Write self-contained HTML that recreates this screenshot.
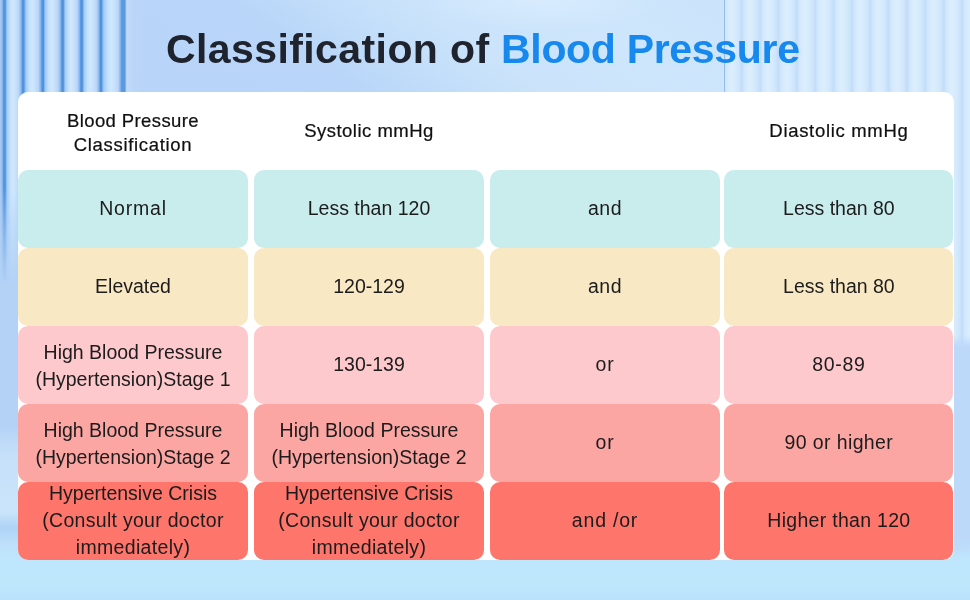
<!DOCTYPE html>
<html lang="en">
<head>
<meta charset="utf-8">
<title>Classification of Blood Pressure</title>
<style>
html,body{margin:0;padding:0;}
body{width:970px;height:600px;overflow:hidden;position:relative;font-family:"Liberation Sans",sans-serif;background:#bcdcf8;}
#bg{position:absolute;left:0;top:0;width:970px;height:600px;background:#b9d6f9;}
#bgtop{position:absolute;left:126px;top:0;width:598px;height:92px;
  background:linear-gradient(35.3deg,#b8d5f9 0%,#b9d6f9 33%,#c3defa 46%,#cbe4fb 58%,#cee6fc 78%,#cbe4fb 100%);}
#bgglow{position:absolute;left:420px;top:0;width:240px;height:60px;
  background:radial-gradient(ellipse 120px 30px at 50% 0,rgba(226,241,254,.5),rgba(226,241,254,0));}
#stripesR{position:absolute;left:724px;top:0;width:246px;height:600px;
  background:repeating-linear-gradient(90deg,#c4defa 0px,#cfe6fc 1.5px,#d8ecfd 5px,#dbeefe 8px,#d5eafc 12px,#cde4fb 15.5px,#c4defa 17.5px,#c4defa 18.35px);}
#lineR{position:absolute;left:723.5px;top:0;width:1.2px;height:92px;background:#93bbec;}
#rightlow{position:absolute;left:950px;top:335px;width:20px;height:265px;background:linear-gradient(180deg,rgba(188,217,250,0),#bcd9fa 12px,#bcd9fa 200px,#bfe0fa 240px);}
#stripesL{position:absolute;left:0;top:0;width:140px;height:290px;
  background:linear-gradient(90deg,#a9caf4 0px,#a8c9f4 0.8px,#88b5ec 2.4px,#5e9be0 3.4px,#5092dc 3.9px,#5092dc 5.3px,#78b1ee 5.9px,#a6cdf8 7.4px,#c4e0fc 10.1px,#d0e8fd 13.0px,#c6e0fb 16.2px,#b7d5f8 19.2px,#a8c9f4 19.6px,#88b5ec 21.2px,#5e9be0 22.2px,#5092dc 22.7px,#5092dc 24.1px,#78b1ee 24.7px,#a6cdf8 26.2px,#c4e0fc 29.1px,#d0e8fd 32.1px,#c6e0fb 35.4px,#b7d5f8 38.5px,#a8c9f4 39.1px,#88b5ec 40.7px,#5e9be0 41.7px,#5092dc 42.2px,#5092dc 43.6px,#78b1ee 44.2px,#a6cdf8 45.7px,#c4e0fc 48.7px,#d0e8fd 51.7px,#c6e0fb 55.1px,#b7d5f8 58.2px,#a8c9f4 58.9px,#88b5ec 60.5px,#5e9be0 61.5px,#5092dc 62.0px,#5092dc 63.4px,#78b1ee 64.0px,#a6cdf8 65.5px,#c4e0fc 68.3px,#d0e8fd 71.2px,#c6e0fb 74.4px,#b7d5f8 77.4px,#a8c9f4 77.9px,#88b5ec 79.5px,#5e9be0 80.5px,#5092dc 81.0px,#5092dc 82.4px,#78b1ee 83.0px,#a6cdf8 84.5px,#c4e0fc 87.4px,#d0e8fd 90.4px,#c6e0fb 93.7px,#b7d5f8 96.8px,#a8c9f4 97.4px,#88b5ec 99.0px,#5e9be0 100.0px,#5092dc 100.5px,#5092dc 101.9px,#78b1ee 102.5px,#a6cdf8 104.0px,#c4e0fc 107.8px,#d0e8fd 111.1px,#c6e0fb 114.9px,#b7d5f8 118.4px,#a8c9f4 118.8px,#88b5ec 120.4px,#5e9be0 121.4px,#5b9ae0 121.9px,#5b9ae0 124.9px,#78b1ee 125.5px,#c0dafa 126.6px,#b9d6f9 134px,#b9d6f9 140px);
  -webkit-mask-image:linear-gradient(180deg,#000 0,#000 188px,rgba(0,0,0,.5) 228px,rgba(0,0,0,0) 285px);
  mask-image:linear-gradient(180deg,#000 0,#000 188px,rgba(0,0,0,.5) 228px,rgba(0,0,0,0) 285px);}
#leftlow{position:absolute;left:0;top:200px;width:24px;height:400px;background:linear-gradient(180deg,#b3d2f6 0,#b3d2f6 225px,#c6e0fa 255px,#cae4fb 312px,#aed3f5 328px,#bfe0fa 345px,#bfe1fa 400px);}
#bgbottom{position:absolute;left:0;top:545px;width:970px;height:55px;
  background:linear-gradient(180deg,rgba(190,230,252,0) 0,#bee6fc 14px,#bfe7fc 35px,#bae2fb 55px);}
#card{position:absolute;left:17.7px;top:92.2px;width:936.8px;height:468.2px;background:#fff;border-radius:10px;}
#title{position:absolute;left:0;top:0;width:970px;height:92px;margin:0;font-size:41px;line-height:50px;font-weight:bold;}
.t{position:absolute;top:24px;white-space:nowrap;}
#t1{left:166px;color:#1e232d;letter-spacing:.41px;}
#t2{left:501px;color:#1688ee;letter-spacing:-.31px;}
.cell{position:absolute;width:230px;height:78px;border-radius:10px;box-sizing:border-box;padding:0 0 1.6px;display:flex;align-items:center;justify-content:center;text-align:center;font-size:19.5px;line-height:27px;color:#1c1c1c;}
.c1{left:18px}.c2{left:254px}.c3{left:490px}.c4{left:724.3px;width:229.2px}
.r0{top:92px;padding:0;background:transparent;font-size:18.5px;line-height:24.3px;color:#111;letter-spacing:.4px;-webkit-text-stroke:.22px #111;}
.two{padding:2.5px 0 0}.three{padding:0}
.r1{top:170px;background:#c9eced}
.r2{top:248px;background:#f9e8c4}
.r3{top:326px;background:#fdc9cc}
.r4{top:404px;background:#fba6a3}
.r5{top:482px;height:77.6px;background:#fd756b}
</style>
</head>
<body>
<div id="bg"></div>
<div id="bgtop"></div>
<div id="bgglow"></div>
<div id="stripesR"></div>
<div id="lineR"></div>
<div id="rightlow"></div>
<div id="leftlow"></div>
<div id="stripesL"></div>
<div id="bgbottom"></div>
<h1 id="title"><span class="t" id="t1">Classification of</span> <span class="t" id="t2">Blood Pressure</span></h1>
<div id="card"></div>

<div class="cell r0 c1" style="padding-top:4.5px"><div>Blood Pressure<br><span style="letter-spacing:.68px">Classification</span></div></div>
<div class="cell r0 c2" style="letter-spacing:.48px">Systolic mmHg</div>
<div class="cell r0 c4" style="letter-spacing:.68px">Diastolic mmHg</div>

<div class="cell r1 c1" style="letter-spacing:.8px">Normal</div>
<div class="cell r1 c2">Less than 120</div>
<div class="cell r1 c3" style="letter-spacing:.55px">and</div>
<div class="cell r1 c4">Less than 80</div>

<div class="cell r2 c1">Elevated</div>
<div class="cell r2 c2">120-129</div>
<div class="cell r2 c3" style="letter-spacing:.55px">and</div>
<div class="cell r2 c4">Less than 80</div>

<div class="cell two r3 c1">High Blood Pressure<br>(Hypertension)Stage 1</div>
<div class="cell r3 c2">130-139</div>
<div class="cell r3 c3" style="letter-spacing:.9px">or</div>
<div class="cell r3 c4" style="letter-spacing:.65px">80-89</div>

<div class="cell two r4 c1">High Blood Pressure<br>(Hypertension)Stage 2</div>
<div class="cell two r4 c2">High Blood Pressure<br>(Hypertension)Stage 2</div>
<div class="cell r4 c3" style="letter-spacing:.9px">or</div>
<div class="cell r4 c4" style="letter-spacing:.38px">90 or higher</div>

<div class="cell three r5 c1"><div>Hypertensive Crisis<br><span style="letter-spacing:.29px">(Consult your doctor</span><br><span style="letter-spacing:.33px">immediately)</span></div></div>
<div class="cell three r5 c2"><div>Hypertensive Crisis<br><span style="letter-spacing:.29px">(Consult your doctor</span><br><span style="letter-spacing:.33px">immediately)</span></div></div>
<div class="cell r5 c3" style="letter-spacing:.8px">and /or</div>
<div class="cell r5 c4" style="letter-spacing:.3px">Higher than 120</div>
</body>
</html>
